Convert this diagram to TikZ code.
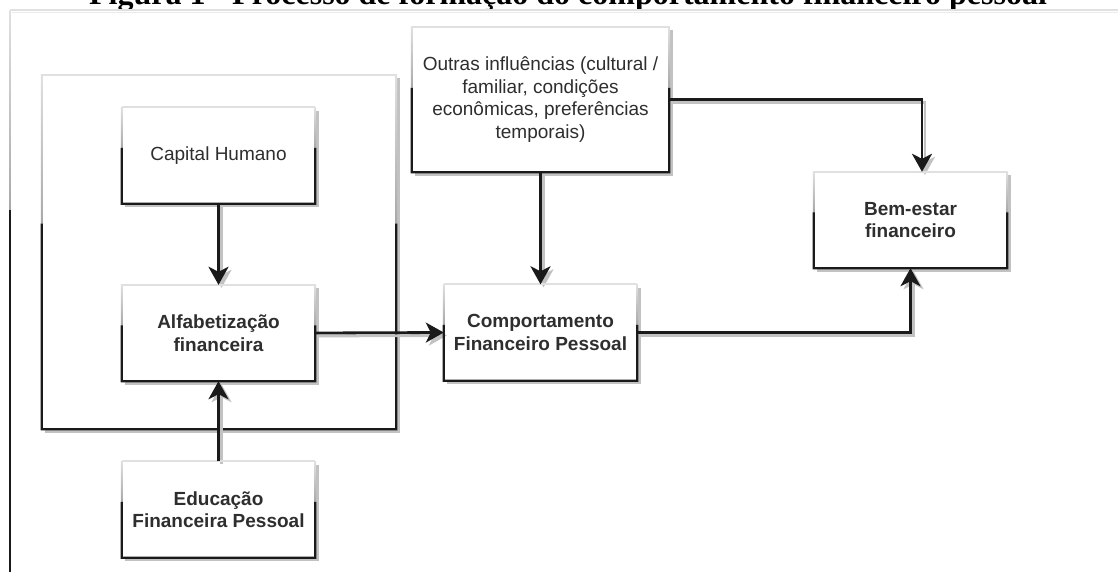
\documentclass[tikz,border=0pt]{standalone}
\usepackage{fontspec}
\setmainfont{Liberation Sans}
\newfontfamily\titlefont{Liberation Serif}
\usetikzlibrary{arrows.meta,calc}

\definecolor{edgelight}{HTML}{E0E0E0}
\definecolor{edgemid}{HTML}{A8A8A8}
\definecolor{edgedark}{HTML}{1A1A1A}
\definecolor{txt}{HTML}{2E2E2E}
\definecolor{shadowgray}{HTML}{C2C2C2}

\pgfdeclarelayer{shadowA}
\pgfdeclarelayer{fillA}
\pgfdeclarelayer{shadowB}
\pgfdeclarelayer{fillB}
\pgfsetlayers{shadowA,fillA,shadowB,fillB,main}

% Shadow and white face of a box, on the given pair of layers
\newcommand\boxbase[3]{%
  \begin{pgfonlayer}{#2}
    \fill[shadowgray] ($(#1.north west)+(3.5,3.5)$) rectangle ($(#1.south east)+(3.5,3.5)$);
  \end{pgfonlayer}
  \begin{pgfonlayer}{#3}
    \fill[white] (#1.north west) rectangle (#1.south east);
  \end{pgfonlayer}
}

% Border of a box: pale top edge, sides fading in, dark lower part
\newcommand\boxedges[1]{%
  \path (#1.north west) coordinate (bnw) (#1.north east) coordinate (bne)
        (#1.south west) coordinate (bsw) (#1.south east) coordinate (bse);
  \draw[edgelight, line width=2pt] (bnw) -- (bne);
  \shade[top color=edgelight, bottom color=edgemid]
    ($(bnw)+(-1,0)$) rectangle ($(bnw)!0.42!(bsw)+(1,0)$);
  \shade[top color=edgelight, bottom color=edgemid]
    ($(bne)+(-1,0)$) rectangle ($(bne)!0.42!(bse)+(1,0)$);
  \draw[edgedark, line width=2.2pt, line join=miter]
    ($(bnw)!0.42!(bsw)$) -- (bsw) -- (bse) -- ($(bne)!0.42!(bse)$);
}

\begin{document}
\begin{tikzpicture}[x=1pt,y=-1pt,
  card/.style={draw=none, minimum width=193pt, minimum height=96pt,
    inner sep=0pt, align=center, text=txt,
    font=\fontsize{19}{22.5}\selectfont},
  strong/.style={font=\fontsize{19}{22.5}\selectfont\bfseries},
  tip/.style={-{Stealth[length=18pt,width=20pt,inset=5pt]}},
  arr/.style={draw=edgedark, line width=2.8pt, tip},
  arrshadow/.style={draw=shadowgray, line width=2.8pt, tip,
    transform canvas={shift={(3pt,-3pt)}}},
]
\useasboundingbox (0,0) rectangle (1118,571);
\clip (0,0) rectangle (1118,571);

% caption
\node[font=\titlefont\fontsize{32}{38}\selectfont\bfseries, anchor=base, inner sep=0pt]
  (title) at (568,4.5) {Figura 1 - Processo de formação do comportamento financeiro pessoal};

% outer frame
\draw[edgelight, line width=1.2pt] (10,10) -- (1130,10);
\draw[black!8, line width=1pt] (12,12.5) -- (1130,12.5);
\shade[top color=edgelight, bottom color=edgemid] (9.4,10) rectangle (10.6,210);
\draw[edgedark, line width=1.3pt] (10,210) -- (10,580);

% grouping box
\node[card, minimum width=354pt, minimum height=354pt] (group) at (219,252) {};
\boxbase{group}{shadowA}{fillA}
\boxedges{group}

% boxes
\node[card] (capital) at (218.5,155.5) {Capital Humano};
\node[card, strong] (alfa) at (218.5,333) {Alfabetização\\financeira};
\node[card, strong] (edu) at (218.5,509.5) {Educação\\Financeira Pessoal};
\node[card, minimum width=257pt, minimum height=145pt] (outras) at (540.5,99.5)
  {Outras influências (cultural /\\familiar, condições\\econômicas, preferências\\temporais)};
\node[card, strong] (comp) at (540.5,332.5) {Comportamento\\Financeiro Pessoal};
\node[card, strong] (bem) at (910.5,220) {Bem-estar\\financeiro};

\foreach \b in {capital,alfa,edu,outras,comp,bem} {\boxbase{\b}{shadowB}{fillB}}

% connector shadows
\draw[arrshadow] (capital.south) -- (alfa.north);
\draw[arrshadow] (edu.north) -- (alfa.south);
\draw[arrshadow] (alfa.east) -- (comp.west);
\draw[arrshadow] (outras.south) -- (comp.north);
\draw[arrshadow] (outras.east) -| ([xshift=11.5pt]bem.north);
\draw[arrshadow] (comp.east) -| (bem.south);

\foreach \b in {capital,alfa,edu,outras,comp,bem} {\boxedges{\b}}

% connectors
\draw[arr] (capital.south) -- (alfa.north);
\draw[arr] (edu.north) -- (alfa.south);
\draw[arr] (alfa.east) -- (comp.west);
\draw[arr] (outras.south) -- (comp.north);
\draw[arr] (outras.east) -| ([xshift=11.5pt]bem.north);
\draw[arr] (comp.east) -| (bem.south);
\end{tikzpicture}
\end{document}
